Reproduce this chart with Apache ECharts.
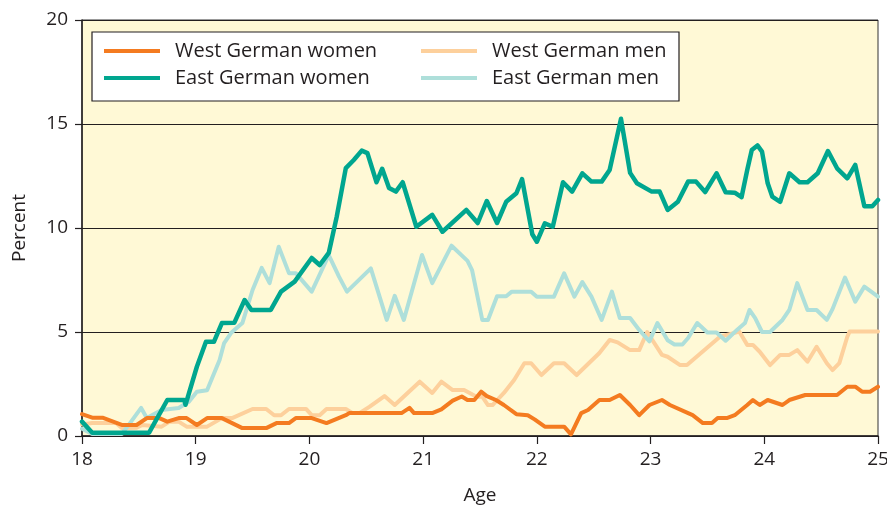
<!DOCTYPE html>
<html>
<head>
<meta charset="utf-8">
<script src="https://cdn.jsdelivr.net/npm/echarts@6/dist/echarts.min.js"></script>
<style>
  html, body { margin: 0; padding: 0; background: #fff; }
  #main { width: 887px; height: 513px; }
</style>
</head>
<body>
<div id="main"></div>
<script>
// ages (x) and percent (y), one pair of arrays per series
var westWomenAge = [18.00, 18.09, 18.18, 18.35, 18.48, 18.57, 18.68, 18.75, 18.85, 18.92, 19.01, 19.10, 19.23, 19.41, 19.62, 19.71, 19.82, 19.88, 20.02, 20.15, 20.32, 20.35, 20.81, 20.88, 20.92, 21.08, 21.16, 21.26, 21.34, 21.39, 21.45, 21.51, 21.56, 21.64, 21.71, 21.82, 21.92, 21.98, 22.07, 22.24, 22.30, 22.39, 22.45, 22.55, 22.64, 22.73, 22.82, 22.90, 22.99, 23.10, 23.17, 23.37, 23.46, 23.54, 23.59, 23.67, 23.74, 23.85, 23.90, 23.96, 24.03, 24.16, 24.22, 24.36, 24.64, 24.73, 24.80, 24.86, 24.93, 25.00];
var westWomenVal = [1.05, 0.88, 0.88, 0.53, 0.53, 0.86, 0.86, 0.69, 0.86, 0.86, 0.53, 0.86, 0.86, 0.38, 0.38, 0.62, 0.62, 0.86, 0.86, 0.62, 1.0, 1.1, 1.1, 1.35, 1.1, 1.1, 1.28, 1.7, 1.9, 1.73, 1.73, 2.13, 1.92, 1.73, 1.49, 1.05, 1.0, 0.8, 0.45, 0.45, 0.08, 1.1, 1.25, 1.73, 1.73, 1.97, 1.49, 1.0, 1.49, 1.73, 1.49, 1.0, 0.62, 0.62, 0.86, 0.86, 1.0, 1.49, 1.73, 1.49, 1.73, 1.49, 1.73, 1.97, 1.97, 2.37, 2.37, 2.13, 2.13, 2.37];

var westMenAge = [18.00, 18.09, 18.30, 18.35, 18.48, 18.53, 18.70, 18.77, 18.85, 18.92, 19.06, 19.10, 19.23, 19.32, 19.50, 19.62, 19.69, 19.75, 19.82, 19.97, 20.02, 20.09, 20.15, 20.32, 20.38, 20.44, 20.53, 20.66, 20.75, 20.97, 21.08, 21.16, 21.26, 21.36, 21.47, 21.52, 21.57, 21.61, 21.71, 21.80, 21.89, 21.95, 22.04, 22.15, 22.24, 22.35, 22.55, 22.64, 22.71, 22.82, 22.90, 22.97, 23.10, 23.15, 23.26, 23.32, 23.61, 23.78, 23.85, 23.90, 23.96, 24.05, 24.14, 24.22, 24.29, 24.38, 24.46, 24.55, 24.60, 24.66, 24.73, 24.75, 25.00];
var westMenVal = [0.55, 0.62, 0.62, 0.38, 0.4, 0.53, 0.45, 0.69, 0.69, 0.45, 0.45, 0.45, 0.86, 0.86, 1.3, 1.3, 1.0, 1.0, 1.3, 1.3, 1.0, 1.0, 1.3, 1.3, 1.1, 1.1, 1.41, 1.92, 1.49, 2.61, 2.07, 2.61, 2.21, 2.21, 1.89, 1.89, 1.49, 1.49, 2.07, 2.69, 3.5, 3.5, 2.93, 3.5, 3.5, 2.93, 3.99, 4.62, 4.5, 4.13, 4.13, 5.0, 3.9, 3.81, 3.41, 3.41, 4.77, 5.02, 4.38, 4.38, 4.05, 3.41, 3.9, 3.9, 4.13, 3.57, 4.29, 3.5, 3.17, 3.5, 4.77, 5.02, 5.02];

var eastWomenAge = [18.00, 18.09, 18.59, 18.75, 18.90, 18.91, 19.01, 19.09, 19.16, 19.23, 19.34, 19.43, 19.49, 19.66, 19.75, 19.87, 20.02, 20.09, 20.17, 20.24, 20.32, 20.39, 20.46, 20.51, 20.59, 20.64, 20.70, 20.76, 20.82, 20.94, 21.08, 21.17, 21.38, 21.48, 21.56, 21.65, 21.73, 21.82, 21.87, 21.96, 22.00, 22.07, 22.14, 22.23, 22.31, 22.40, 22.48, 22.57, 22.64, 22.74, 22.82, 22.88, 23.01, 23.08, 23.15, 23.24, 23.33, 23.40, 23.48, 23.58, 23.66, 23.74, 23.80, 23.85, 23.89, 23.94, 23.98, 24.03, 24.07, 24.14, 24.22, 24.31, 24.38, 24.47, 24.56, 24.64, 24.73, 24.80, 24.88, 24.95, 25.00];
var eastWomenVal = [0.69, 0.16, 0.16, 1.73, 1.73, 1.5, 3.33, 4.53, 4.53, 5.43, 5.45, 6.54, 6.06, 6.06, 6.94, 7.42, 8.56, 8.22, 8.8, 10.54, 12.88, 13.27, 13.72, 13.6, 12.2, 12.85, 11.92, 11.75, 12.2, 10.06, 10.63, 9.82, 10.87, 10.24, 11.3, 10.24, 11.26, 11.67, 12.35, 9.7, 9.34, 10.22, 10.06, 12.2, 11.75, 12.63, 12.23, 12.23, 12.79, 15.25, 12.65, 12.15, 11.75, 11.75, 10.87, 11.26, 12.23, 12.23, 11.73, 12.63, 11.72, 11.7, 11.48, 12.79, 13.75, 13.97, 13.67, 12.15, 11.51, 11.26, 12.63, 12.2, 12.2, 12.63, 13.7, 12.87, 12.39, 13.03, 11.05, 11.05, 11.35];

var eastMenAge = [18.00, 18.09, 18.35, 18.39, 18.52, 18.57, 18.70, 18.85, 18.94, 19.01, 19.10, 19.21, 19.25, 19.31, 19.41, 19.50, 19.58, 19.65, 19.73, 19.82, 19.88, 20.02, 20.17, 20.26, 20.33, 20.54, 20.68, 20.75, 20.83, 20.99, 21.08, 21.25, 21.39, 21.43, 21.52, 21.57, 21.65, 21.73, 21.78, 21.95, 22.00, 22.15, 22.24, 22.33, 22.40, 22.48, 22.57, 22.66, 22.73, 22.82, 22.90, 22.99, 23.06, 23.15, 23.21, 23.28, 23.33, 23.41, 23.50, 23.58, 23.66, 23.76, 23.83, 23.87, 23.92, 23.98, 24.05, 24.16, 24.22, 24.29, 24.38, 24.46, 24.55, 24.60, 24.71, 24.80, 24.88, 25.00];
var eastMenVal = [0.35, 0.1, 0.1, 0.38, 1.35, 0.87, 1.25, 1.35, 1.65, 2.13, 2.2, 3.65, 4.47, 4.95, 5.43, 7.02, 8.08, 7.35, 9.1, 7.83, 7.83, 6.94, 8.7, 7.66, 6.94, 8.06, 5.58, 6.74, 5.58, 8.7, 7.35, 9.15, 8.42, 7.98, 5.58, 5.58, 6.72, 6.72, 6.94, 6.94, 6.7, 6.7, 7.82, 6.7, 7.4, 6.7, 5.58, 6.94, 5.67, 5.67, 5.1, 4.55, 5.43, 4.6, 4.4, 4.4, 4.71, 5.43, 4.98, 4.98, 4.58, 5.1, 5.43, 6.06, 5.67, 5.0, 5.0, 5.58, 6.06, 7.35, 6.06, 6.06, 5.58, 6.1, 7.62, 6.46, 7.18, 6.7];

var xTicks = [18, 19, 20, 21, 22, 23, 24, 25];
var yTicks = [0, 5, 10, 15, 20];

function pairs(xs, ys) {
    var out = [];
    for (var i = 0; i < xs.length; i++) {
        out.push([xs[i], ys[i]]);
    }
    return out;
}

var font = 'Open Sans';
var chart = echarts.init(document.getElementById('main'));

function lineSeries(name, xs, ys, color, width, z) {
    return {
        name: name,
        type: 'line',
        data: pairs(xs, ys),
        showSymbol: false,
        symbol: 'none',
        z: z,
        lineStyle: { color: color, width: width, join: 'round', cap: 'round' },
        itemStyle: { color: color }
    };
}

var legendText = { fontFamily: font, fontSize: 20, color: '#231f20', padding: [0, 0, 0, 10], lineHeight: 22 };

var option = {
    animation: false,
    backgroundColor: '#ffffff',
    grid: {
        left: 82, right: 9, top: 20, bottom: 77,
        outerBoundsMode: 'none',
        containLabel: false,
        show: true,
        backgroundColor: '#fff9d6',
        borderColor: '#333333',
        borderWidth: 1
    },
    graphic: [{
        type: 'rect',
        shape: { x: 92, y: 32, width: 587, height: 69 },
        style: { fill: '#ffffff', stroke: '#231f20', lineWidth: 1.2 },
        z: 10
    }],
    legend: [{
        data: ['West German women', 'East German women'],
        orient: 'vertical',
        left: 99, top: 35,
        icon: 'rect',
        itemWidth: 56, itemHeight: 4,
        itemGap: 5,
        textStyle: legendText,
        z: 20
    }, {
        data: ['West German men', 'East German men'],
        orient: 'vertical',
        left: 416, top: 35,
        icon: 'rect',
        itemWidth: 56, itemHeight: 4,
        itemGap: 5,
        textStyle: legendText,
        z: 20
    }],
    xAxis: {
        type: 'value',
        min: xTicks[0], max: xTicks[xTicks.length - 1], interval: 1,
        name: 'Age',
        nameLocation: 'middle',
        nameGap: 50,
        nameTextStyle: { fontFamily: font, fontSize: 19, color: '#231f20' },
        axisLine: { onZero: false, lineStyle: { color: '#231f20', width: 1.5 } },
        axisTick: { show: true, length: 8, lineStyle: { color: '#231f20', width: 1.2 } },
        axisLabel: { margin: 14, fontFamily: font, fontSize: 19, color: '#231f20' },
        splitLine: { show: false }
    },
    yAxis: {
        type: 'value',
        min: yTicks[0], max: yTicks[yTicks.length - 1], interval: 5,
        name: 'Percent',
        nameLocation: 'middle',
        nameGap: 53,
        nameTextStyle: { fontFamily: font, fontSize: 19, color: '#231f20' },
        axisLine: { show: true, lineStyle: { color: '#231f20', width: 1.5 } },
        axisTick: { show: true, length: 7, lineStyle: { color: '#231f20', width: 1.2 } },
        axisLabel: { margin: 14, fontFamily: font, fontSize: 19, color: '#231f20' },
        splitLine: { show: true, lineStyle: { color: '#231f20', width: 1.2 } }
    },
    series: [
        lineSeries('West German men', westMenAge, westMenVal, '#fdd09c', 4, 2),
        lineSeries('East German men', eastMenAge, eastMenVal, '#aedfda', 4, 3),
        lineSeries('West German women', westWomenAge, westWomenVal, '#f47b20', 4, 4),
        lineSeries('East German women', eastWomenAge, eastWomenVal, '#00a68f', 4.5, 5)
    ]
};

chart.setOption(option);
</script>
</body>
</html>
